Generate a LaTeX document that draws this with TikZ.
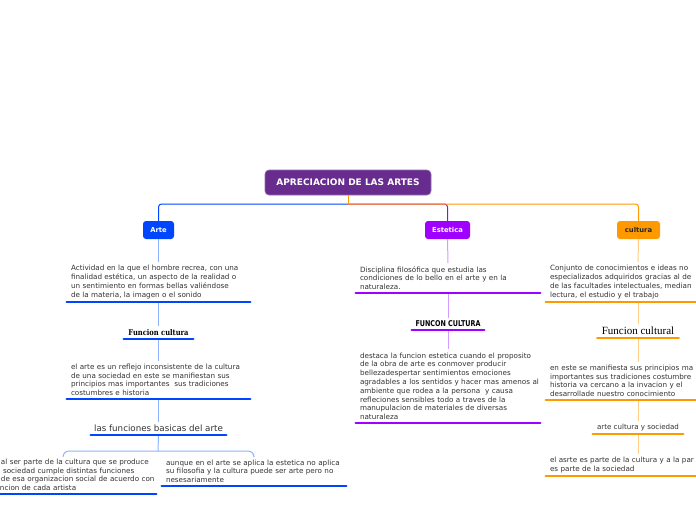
\documentclass[tikz,border=0pt]{standalone}
\usepackage{fontspec}
\setmainfont{DejaVu Sans}
\newfontfamily\serifx{Liberation Serif}
\newfontfamily\blackx[FakeStretch=0.85]{DejaVu Serif}
\newfontfamily\condx[FakeStretch=0.8]{DejaVu Sans}
\definecolor{croot}{HTML}{682C8E}
\definecolor{cblue}{HTML}{0046FF}
\definecolor{cpurple}{HTML}{A000FF}
\definecolor{corange}{HTML}{FF9900}
\definecolor{lblue}{HTML}{8FB3FF}
\definecolor{lpurple}{HTML}{D59CFF}
\definecolor{lorange}{HTML}{FFCD85}
\definecolor{ctext}{HTML}{333333}
\newcommand\tl[1]{\mbox{#1}}
\begin{document}
\begin{tikzpicture}[x=1pt,y=-1pt,
  rootbox/.style={fill=croot, draw=croot!70!white, line width=0.6pt, rounded corners=4pt, minimum width=166pt, minimum height=25pt, inner sep=0pt, text=white, font=\bfseries\fontsize{9}{10}\selectfont},
  topbox/.style={rounded corners=3pt, minimum height=18pt, inner sep=0pt, font=\bfseries\fontsize{6.8}{8}\selectfont},
  blk/.style={anchor=south, align=left, inner xsep=4pt, inner ysep=3pt, text=ctext, font=\fontsize{7.2}{8.8}\selectfont},
  lbl/.style={anchor=south, align=center, inner xsep=0pt, inner ysep=3pt, text=ctext},
  conn/.style={line width=1pt},
  ul/.style={line width=2.8pt, line cap=round}]
\useasboundingbox (0,0) rectangle (696,520);
\fill[white] (0,0) rectangle (696,520);
\begin{scope}
\clip (0,0) rectangle (696,520);
% top level
\node[rootbox] (root) at (348,182.5) {APRECIACION DE LAS ARTES};
\node[topbox, fill=cblue, text=white, minimum width=31pt] (arte) at (158.5,230) {Arte};
\node[topbox, fill=cpurple, text=white, minimum width=45pt] (este) at (447.5,230) {Estetica};
\node[topbox, fill=corange, text=black!85, minimum width=43pt] (cult) at (638.5,230) {cultura};
\coordinate (hub) at (348,204);
\draw[conn, cblue, rounded corners=3pt] (hub) -| (arte.north);
\draw[conn, cpurple, rounded corners=3pt] (hub) -| (este.north);
\draw[conn, corange, rounded corners=3pt] (hub) -| (cult.north);
\draw[conn, corange] (root.south) -- (hub);

% Arte column
\node[blk, text width=175pt] (a1) at (158.5,302) {\tl{Actividad en la que el hombre recrea, con una}\\\tl{finalidad estética, un aspecto de la realidad o}\\\tl{un sentimiento en formas bellas valiéndose}\\\tl{de la materia, la imagen o el sonido}};
\node[lbl, minimum width=69pt, font=\blackx\bfseries\fontsize{7.9}{9}\selectfont, text=black] (a2) at (158.5,339) {Funcion cultura};
\node[blk, text width=175pt] (a3) at (158.5,399) {\tl{el arte es un reflejo inconsistente de la cultura}\\\tl{de una sociedad en este se manifiestan sus}\\\tl{principios mas importantes\ \ sus tradiciones}\\\tl{costumbres e historia}};
\node[lbl, minimum width=135pt, font=\fontsize{8.7}{10}\selectfont] (a4) at (158.5,435) {las funciones basicas del arte};
\node[blk, text width=178pt] (b1) at (63,494) {\tl{\hspace*{27pt}al ser parte de la cultura que se produce}\\\tl{\hspace*{29pt}sociedad cumple distintas funciones}\\\tl{\hspace*{27pt}de esa organizacion social de acuerdo con}\\\tl{\hspace*{26pt}ncion de cada artista}};
\node[blk, text width=176pt] (b2) at (254,486) {\tl{aunque en el arte se aplica la estetica no aplica}\\\tl{su filosofia y la cultura puede ser arte pero no}\\\tl{nesesariamente}};
\coordinate (fork) at (158,451);
\draw[conn, lblue] (arte.south) -- (a1.north);
\draw[conn, lblue] (a1.south) -- (a2.north);
\draw[conn, lblue] (a2.south) -- (a3.north);
\draw[conn, lblue] (a3.south) -- (a4.north);
\draw[conn, lblue] (a4.south) -- (fork);
\draw[conn, lblue, rounded corners=6pt] (b1.north) |- (fork) -| (b2.north);

% Estetica column
\node[blk, text width=176pt] (e1) at (448,293) {\tl{Disciplina filosófica que estudia las}\\\tl{condiciones de lo bello en el arte y en la}\\\tl{naturaleza.}};
\node[lbl, minimum width=72pt, font=\condx\bfseries\fontsize{8}{9}\selectfont, text=black] (e2) at (448,330) {FUNCON CULTURA};
\node[blk, text width=176pt] (e3) at (448,423) {\tl{destaca la funcion estetica cuando el proposito}\\\tl{de la obra de arte es conmover producir}\\\tl{bellezadespertar sentimientos emociones}\\\tl{agradables a los sentidos y hacer mas amenos al}\\\tl{ambiente que rodea a la persona\ \ y causa}\\\tl{refleciones sensibles todo a traves de la}\\\tl{manupulacion de materiales de diversas}\\\tl{naturaleza}};
\draw[conn, lpurple] (este.south) -- (e1.north);
\draw[conn, lpurple] (e1.south) -- (e2.north);
\draw[conn, lpurple] (e2.south) -- (e3.north);

% cultura column
\node[blk, text width=176pt] (c1) at (638,302) {\tl{Conjunto de conocimientos e ideas no}\\\tl{especializados adquiridos gracias al de}\\\tl{de las facultades intelectuales, median}\\\tl{lectura, el estudio y el trabajo}};
\node[lbl, minimum width=81pt, font=\serifx\fontsize{11}{12}\selectfont, text=black] (c2) at (638,338) {Funcion cultural};
\node[blk, text width=176pt] (c3) at (638,400) {\tl{en este se manifiesta sus principios ma}\\\tl{importantes sus tradiciones costumbre}\\\tl{historia va cercano a la invacion y el}\\\tl{desarrollade nuestro conocimiento}};
\node[lbl, minimum width=90pt, font=\fontsize{7.1}{8}\selectfont] (c4) at (638,434) {arte cultura y sociedad};
\node[blk, text width=176pt] (c5) at (638,476) {\tl{el asrte es parte de la cultura y a la par la}\\\tl{es parte de la sociedad}};
\draw[conn, lorange] (cult.south) -- (c1.north);
\draw[conn, lorange] (c1.south) -- (c2.north);
\draw[conn, lorange] (c2.south) -- (c3.north);
\draw[conn, lorange] (c3.south) -- (c4.north);
\draw[conn, lorange] (c4.south) -- (c5.north);

% underlines
\foreach \n/\c in {a1/cblue,a2/cblue,a3/cblue,a4/cblue,b1/cblue,b2/cblue,e1/cpurple,e2/cpurple,e3/cpurple,c1/corange,c2/corange,c3/corange,c4/corange,c5/corange}
  \draw[ul, \c] (\n.south west) -- (\n.south east);
\end{scope}
\end{tikzpicture}
\end{document}
